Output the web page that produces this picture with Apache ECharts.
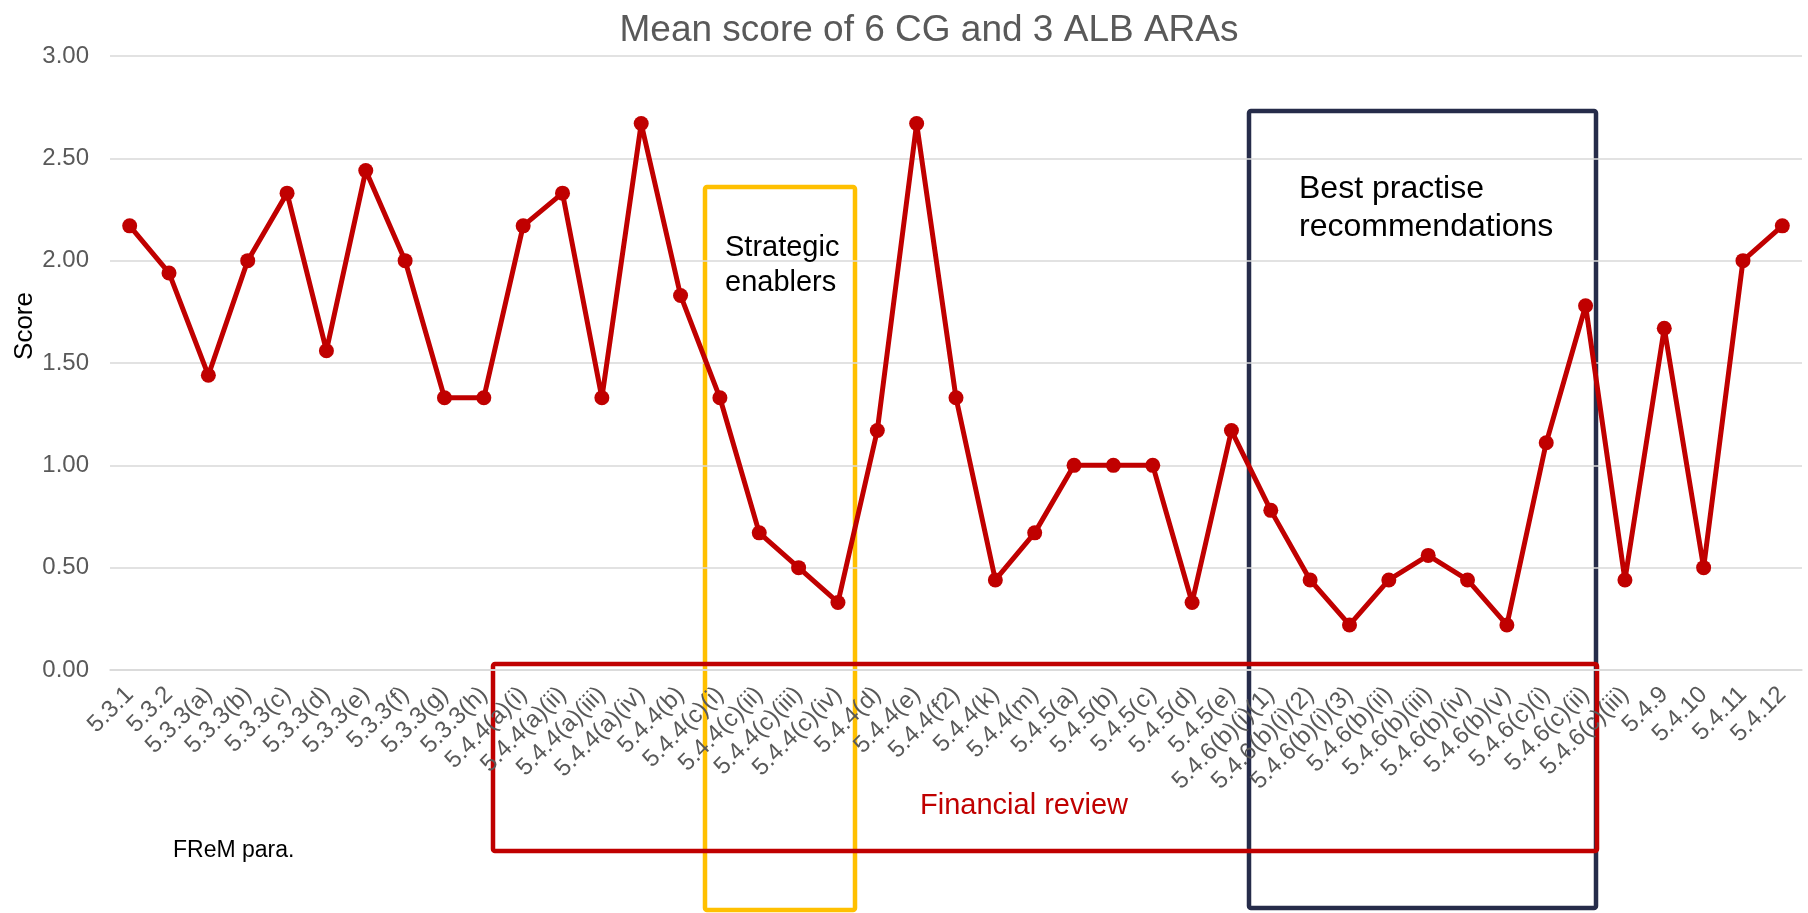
<!DOCTYPE html>
<html>
<head>
<meta charset="utf-8">
<script src="https://cdn.jsdelivr.net/npm/echarts@6/dist/echarts.min.js"></script>
<style>
html,body{margin:0;padding:0;background:#fff;}
#c{width:1808px;height:913px;}
</style>
</head>
<body>
<div id="c"></div>
<script>
const categories = ["5.3.1","5.3.2","5.3.3(a)","5.3.3(b)","5.3.3(c)","5.3.3(d)","5.3.3(e)","5.3.3(f)","5.3.3(g)","5.3.3(h)",
  "5.4.4(a)(i)","5.4.4(a)(ii)","5.4.4(a)(iii)","5.4.4(a)(iv)","5.4.4(b)","5.4.4(c)(i)","5.4.4(c)(ii)","5.4.4(c)(iii)","5.4.4(c)(iv)",
  "5.4.4(d)","5.4.4(e)","5.4.4(f2)","5.4.4(k)","5.4.4(m)","5.4.5(a)","5.4.5(b)","5.4.5(c)","5.4.5(d)","5.4.5(e)",
  "5.4.6(b)(i)(1)","5.4.6(b)(i)(2)","5.4.6(b)(i)(3)","5.4.6(b)(ii)","5.4.6(b)(iii)","5.4.6(b)(iv)","5.4.6(b)(v)",
  "5.4.6(c)(i)","5.4.6(c)(ii)","5.4.6(c)(iii)","5.4.9","5.4.10","5.4.11","5.4.12"];
const meanScores = [2.17,1.94,1.44,2.00,2.33,1.56,2.44,2.00,1.33,1.33,
  2.17,2.33,1.33,2.67,1.83,1.33,0.67,0.50,0.33,
  1.17,2.67,1.33,0.44,0.67,1.00,1.00,1.00,0.33,1.17,
  0.78,0.44,0.22,0.44,0.56,0.44,0.22,
  1.11,1.78,0.44,1.67,0.50,2.00,2.17];
const yTicks = {min:0, max:3, interval:0.5};
const titleText = "Mean score of 6 CG and 3 ALB ARAs";
const yName = "Score";
const boxLabels = {strategic:"Strategic\nenablers", best:"Best practise\nrecommendations", financial:"Financial review", frem:"FReM para."};

const FONT = '"Liberation Sans", Arial, sans-serif';
const chart = echarts.init(document.getElementById('c'), null, {renderer:'canvas'});
chart.setOption({
  backgroundColor:'#ffffff',
  animation:false,
  textStyle:{fontFamily:FONT},
  title:{text:titleText, left:924, top:7, textAlign:'center',
    textStyle:{fontSize:37, fontWeight:'normal', color:'#595959', fontFamily:FONT}},
  grid:{left:110, right:6, top:56, bottom:243},
  xAxis:{type:'category', data:categories, boundaryGap:true, z:5,
    axisLine:{lineStyle:{color:'#D9D9D9', width:1.5}},
    axisTick:{show:false},
    axisLabel:{interval:0, rotate:45, fontSize:24, color:'#595959', margin:21, fontFamily:FONT}},
  yAxis:{type:'value', min:yTicks.min, max:yTicks.max, interval:yTicks.interval, z:5,
    axisLine:{show:false}, axisTick:{show:false},
    splitLine:{lineStyle:{color:'#D9D9D9', width:1.5}},
    axisLabel:{fontSize:24, color:'#595959', margin:21, fontFamily:FONT,
      formatter:v=>v.toFixed(2)}},
  series:[{type:'line', data:meanScores, z:6,
    lineStyle:{color:'#C00000', width:5},
    itemStyle:{color:'#C00000'},
    symbol:'circle', symbolSize:15, showSymbol:true}],
  graphic:[
    {type:'rect', z:1, shape:{x:705, y:187, width:150, height:723, r:2},
      style:{fill:'none', stroke:'#FFC000', lineWidth:4.5}},
    {type:'rect', z:1, shape:{x:1249, y:111, width:347, height:797, r:2},
      style:{fill:'none', stroke:'#262C4A', lineWidth:4.5}},
    {type:'rect', z:2, shape:{x:493, y:664, width:1104, height:187, r:2},
      style:{fill:'none', stroke:'#C00000', lineWidth:4.5}},
    {type:'text', z:10, x:725, y:230, style:{text:boxLabels.strategic, fontSize:29, lineHeight:35,
      fill:'#000', font:'29px '+FONT, verticalAlign:'top', align:'left'}},
    {type:'text', z:10, x:1299, y:170, style:{text:boxLabels.best, fontSize:32, lineHeight:38,
      fill:'#000', font:'32px '+FONT, verticalAlign:'top', align:'left'}},
    {type:'text', z:10, x:1024, y:806, style:{text:boxLabels.financial, fontSize:29,
      fill:'#C00000', font:'29px '+FONT, verticalAlign:'middle', align:'center'}},
    {type:'text', z:10, x:173, y:851, style:{text:boxLabels.frem, fontSize:23,
      fill:'#000', font:'23px '+FONT, verticalAlign:'middle', align:'left'}},
    {type:'text', z:10, x:25, y:326, rotation:Math.PI/2, style:{text:yName, fontSize:26,
      fill:'#000', font:'26px '+FONT, verticalAlign:'middle', align:'center'}}
  ]
});
</script>
</body>
</html>
